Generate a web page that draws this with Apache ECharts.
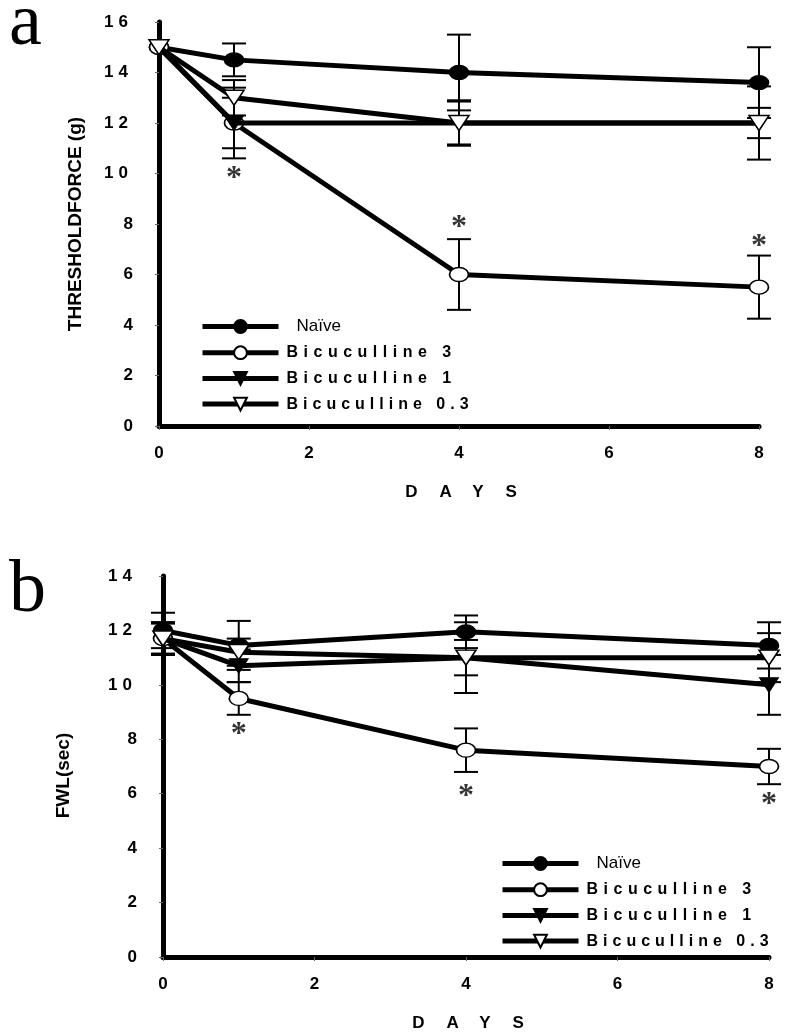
<!DOCTYPE html>
<html>
<head>
<meta charset="utf-8">
<script src="https://cdn.jsdelivr.net/npm/echarts@6/dist/echarts.min.js"></script>
<style>
html,body{margin:0;padding:0;background:#fff;}
#chart{width:800px;height:1036px;}
</style>
</head>
<body>
<div id="chart"></div>
<script>
// ---------- data ----------
const days = [0, 1, 4, 8];
const seriesNames = ['Naïve', 'Bicuculline 3', 'Bicuculline 1', 'Bicuculline 0.3'];

// panel a: threshold force (g)
const forceNaive   = [15, 14.5, 14.0, 13.6];
const forceNaiveErr= [0, 0.65, 1.5, 1.4];
const forceBic3    = [15, 12.0, 6.0, 5.5];
const forceBic3Err = [0, 1.4, 1.4, 1.25];
const forceBic1    = [15, 12.0, 12.0, 12.0];
const forceBic1Err = [0, 1.0, 0.9, 0.6];
const forceBic03   = [15, 13.0, 12.0, 12.0];
const forceBic03Err= [0, 0.7, 0.85, 1.45];
const forceStars   = [[1, 9.95], [4, 8.0], [8, 7.25]];

// panel b: FWL (sec)
const fwlNaive    = [12.0, 11.45, 11.95, 11.45];
const fwlNaiveErr = [0.65, 0.9, 0.6, 0.85];
const fwlBic3     = [11.7, 9.5, 7.6, 7.0];
const fwlBic3Err  = [0.6, 0.6, 0.8, 0.65];
const fwlBic1     = [11.7, 10.7, 11.0, 10.0];
const fwlBic1Err  = [0.6, 0.6, 0.65, 1.1];
const fwlBic03    = [11.7, 11.2, 11.0, 11.0];
const fwlBic03Err = [0.55, 0.5, 1.3, 0.9];
const fwlStars    = [[1, 8.3], [4, 6.05], [8, 5.75]];

// ---------- letter spacing for spaced labels (canvas letterSpacing) ----------
const SPACING = {
  'DAYS': '22px',
  'Bicuculline 3': '5.5px', 'Bicuculline 1': '5.5px', 'Bicuculline 0.3': '5px',
  '10': '5px', '12': '5px', '14': '5px', '16': '5px'
};
(function(){
  const proto = CanvasRenderingContext2D.prototype;
  const orig = proto.fillText;
  proto.fillText = function(t, x, y, w) {
    if ('letterSpacing' in this) {
      this.letterSpacing = SPACING[t] || '0px';
    }
    return (w === undefined) ? orig.call(this, t, x, y) : orig.call(this, t, x, y, w);
  };
})();

// ---------- styles ----------
const FONT = "'Liberation Sans Narrow', 'Liberation Sans', Arial, sans-serif";
const symbols = [
  {symbol: 'circle', size: [19, 14], rotate: 0, fill: '#000'},
  {symbol: 'circle', size: [19, 14], rotate: 0, fill: '#fff'},
  {symbol: 'triangle', size: [18, 14], rotate: 180, fill: '#000'},
  {symbol: 'triangle', size: [20, 15], rotate: 180, fill: '#fff'}
];

function pts(vals) { return days.map((d, i) => [d, vals[i]]); }
function errData(vals, errs) {
  const out = [];
  days.forEach((d, i) => { if (errs[i] > 0) out.push([d, vals[i] - errs[i], vals[i] + errs[i]]); });
  return out;
}
function errSeries(vals, errs, axisIdx) {
  return {
    type: 'custom', xAxisIndex: axisIdx, yAxisIndex: axisIdx, z: 3,
    silent: true,
    encode: {x: 0, y: [1, 2]},
    data: errData(vals, errs),
    renderItem: function (params, api) {
      const x = api.value(0), lo = api.value(1), hi = api.value(2);
      const pH = api.coord([x, hi]), pL = api.coord([x, lo]);
      const h = 12;
      const st = {stroke: '#000', lineWidth: 2};
      return {type: 'group', children: [
        {type: 'line', shape: {x1: pH[0], y1: pH[1], x2: pL[0], y2: pL[1]}, style: st},
        {type: 'line', shape: {x1: pH[0] - h, y1: pH[1], x2: pH[0] + h, y2: pH[1]}, style: st},
        {type: 'line', shape: {x1: pL[0] - h, y1: pL[1], x2: pL[0] + h, y2: pL[1]}, style: st}
      ]};
    }
  };
}
function lineSeries(name, vals, k, axisIdx) {
  const s = symbols[k];
  return {
    name: name, type: 'line', xAxisIndex: axisIdx, yAxisIndex: axisIdx, z: 4 + k,
    data: pts(vals),
    symbol: s.symbol, symbolSize: s.size, symbolRotate: s.rotate,
    showAllSymbol: true,
    lineStyle: {color: '#000', width: 5},
    itemStyle: {color: s.fill, borderColor: '#000', borderWidth: 1.5},
    emphasis: {disabled: true},
    animation: false
  };
}
function starSeries(data, axisIdx) {
  return {
    type: 'scatter', xAxisIndex: axisIdx, yAxisIndex: axisIdx, z: 10,
    data: data, symbolSize: 1, itemStyle: {color: 'rgba(0,0,0,0)'},
    label: {show: true, position: 'inside', formatter: '*', color: '#000', fontWeight: 'bold',
      fontSize: 32, fontFamily: "'Liberation Serif', 'Times New Roman', serif", offset: [0, 4]},
    silent: true
  };
}

const axisLabelStyle = {color: '#000', fontSize: 17, fontWeight: 'bold', fontFamily: FONT};

function xAxisCfg(gridIndex) {
  return {
    type: 'value', gridIndex: gridIndex, min: 0, max: 8, interval: 2,
    name: 'DAYS', nameLocation: 'middle', nameGap: 58,
    nameTextStyle: {color: '#000', fontSize: 17, fontWeight: 'bold', fontFamily: FONT, padding: [0, 0, 0, 26]},
    axisLine: {show: true, onZero: false, lineStyle: {color: '#000', width: 5}},
    axisTick: {show: true, length: 4, lineStyle: {color: '#666', width: 1}},
    axisLabel: Object.assign({margin: 19}, axisLabelStyle),
    splitLine: {show: false}
  };
}
function yAxisCfg(gridIndex, max, name, gap, pad) {
  return {
    type: 'value', gridIndex: gridIndex, min: 0, max: max, interval: 2,
    name: name, nameLocation: 'middle', nameGap: gap, nameRotate: 90,
    nameTextStyle: {color: '#000', fontSize: 19, fontWeight: 'bold', fontFamily: "'Liberation Sans', Arial, sans-serif", padding: pad},
    axisLine: {show: true, lineStyle: {color: '#000', width: 5}},
    axisTick: {show: true, length: 4, lineStyle: {color: '#666', width: 1}},
    axisLabel: Object.assign({margin: 26}, axisLabelStyle),
    splitLine: {show: false}
  };
}
function legendCfg(left, top) {
  return {
    data: seriesNames, orient: 'vertical', left: left, top: top,
    itemWidth: 76, itemHeight: 16, itemGap: 9.7,
    selectedMode: false,
    lineStyle: {width: 5, color: '#000'},
    formatter: function (name) { return name === 'Naïve' ? '{nv|' + name + '}' : name; },
    textStyle: {color: '#000', fontSize: 16, fontWeight: 'bold', fontFamily: FONT, padding: [0, 0, 0, 3],
      rich: {nv: {fontSize: 17, fontWeight: 'normal', fontFamily: FONT, color: '#000', padding: [0, 0, 0, 10]}}}
  };
}

const series = [];
series.push(errSeries(forceNaive, forceNaiveErr, 0));
series.push(errSeries(forceBic3, forceBic3Err, 0));
series.push(errSeries(forceBic1, forceBic1Err, 0));
series.push(errSeries(forceBic03, forceBic03Err, 0));
series.push(lineSeries(seriesNames[0], forceNaive, 0, 0));
series.push(lineSeries(seriesNames[1], forceBic3, 1, 0));
series.push(lineSeries(seriesNames[2], forceBic1, 2, 0));
series.push(lineSeries(seriesNames[3], forceBic03, 3, 0));
series.push(starSeries(forceStars, 0));

series.push(errSeries(fwlNaive, fwlNaiveErr, 1));
series.push(errSeries(fwlBic3, fwlBic3Err, 1));
series.push(errSeries(fwlBic1, fwlBic1Err, 1));
series.push(errSeries(fwlBic03, fwlBic03Err, 1));
series.push(lineSeries(seriesNames[0], fwlNaive, 0, 1));
series.push(lineSeries(seriesNames[1], fwlBic3, 1, 1));
series.push(lineSeries(seriesNames[2], fwlBic1, 2, 1));
series.push(lineSeries(seriesNames[3], fwlBic03, 3, 1));
series.push(starSeries(fwlStars, 1));

const option = {
  backgroundColor: '#fff',
  animation: false,
  grid: [
    {left: 159, right: 41, top: 22, height: 404},
    {left: 163, right: 31, top: 576, height: 381}
  ],
  xAxis: [xAxisCfg(0), xAxisCfg(1)],
  yAxis: [
    yAxisCfg(0, 16, 'THRESHOLDFORCE (g)', 74, [0, 0, 0, 0]),
    yAxisCfg(1, 14, 'FWL(sec)', 90, [0, 18, 0, 0])
  ],
  legend: [legendCfg(195, 313), legendCfg(495, 850)],
  graphic: [
    {type: 'text', left: 9, top: -12, style: {text: 'a', fill: '#000', font: "74px 'Liberation Serif', 'Times New Roman', serif"}},
    {type: 'text', left: 9, top: 555, style: {text: 'b', fill: '#000', font: "74px 'Liberation Serif', 'Times New Roman', serif"}}
  ],
  series: series
};

const chart = echarts.init(document.getElementById('chart'), null, {renderer: 'canvas'});
chart.setOption(option);
</script>
</body>
</html>
